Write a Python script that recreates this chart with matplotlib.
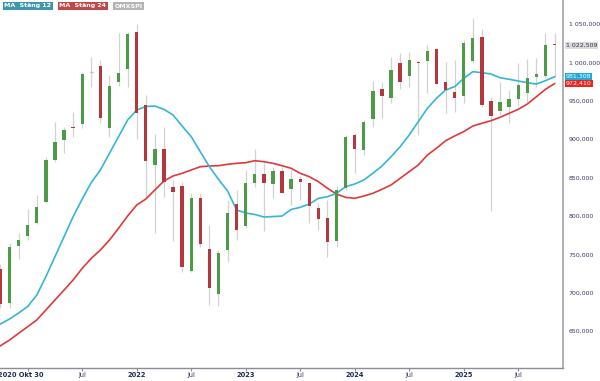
import numpy as np
import pandas as pd
import matplotlib.pyplot as plt
import matplotlib.transforms as mtransforms

# monthly OMXSPI candles, Oct 2020 .. Nov 2025
months = pd.period_range('2020-10', '2025-11', freq='M')

open_ = [731.0, 686.3, 760.9, 774.0, 790.5, 818.6, 872.9, 899.0, 916.3, 919.8,
         988.0, 995.3, 915.0, 974.5, 991.0, 1039.6, 944.5, 866.4, 886.9, 838.2,
         839.1, 728.8, 823.1, 756.7, 698.5, 755.7, 815.6, 787.0, 842.6, 854.3,
         841.3, 858.6, 834.8, 848.6, 842.6, 810.0, 797.8, 767.9, 836.1, 905.5,
         886.0, 925.9, 965.0, 953.3, 999.6, 982.3, 1001.0, 1001.8, 1017.1, 974.9,
         961.9, 956.3, 1002.2, 1033.5, 950.1, 937.1, 942.3, 952.0, 960.6, 981.4,
         982.3, 1024.5]
high = [738.0, 764.5, 777.5, 808.7, 827.4, 877.2, 922.8, 916.3, 935.8, 987.9,
        1007.4, 1003.1, 983.6, 1037.9, 1040.0, 1050.0, 957.6, 906.8, 915.5, 846.9,
        844.7, 829.6, 829.6, 788.3, 755.7, 820.8, 833.9, 859.9, 886.9, 868.6,
        864.2, 864.2, 859.9, 852.1, 844.7, 816.6, 820.8, 839.1, 905.5, 907.7,
        925.0, 975.8, 974.9, 1006.6, 1011.8, 1013.9, 1003.1, 1022.7, 1018.4, 1000.9,
        1003.1, 1029.2, 1057.4, 1043.1, 955.3, 974.9, 964.1, 998.8, 1004.0, 1005.3,
        1037.9, 1037.9]
low = [680.0, 679.8, 743.6, 768.8, 789.6, 817.3, 870.7, 881.7, 903.3, 914.2,
       968.4, 921.5, 903.3, 969.3, 968.4, 899.9, 825.0, 778.3, 825.0, 767.9,
       727.5, 727.5, 760.0, 684.1, 682.8, 740.5, 768.8, 785.0, 838.2, 780.9,
       823.1, 829.6, 814.3, 820.8, 790.5, 781.6, 747.0, 760.0, 833.9, 855.6,
       879.4, 915.5, 927.2, 946.8, 965.0, 967.6, 905.5, 959.8, 970.6, 934.5,
       935.8, 946.8, 998.8, 942.3, 806.9, 931.5, 921.5, 943.2, 948.8, 968.4,
       979.3, 981.0]
close = [686.0, 760.0, 768.8, 788.3, 811.3, 872.9, 896.8, 912.0, 915.0, 984.9,
         988.0, 927.2, 969.3, 986.6, 1037.0, 934.5, 872.0, 887.3, 844.7, 831.7,
         734.0, 823.1, 763.6, 706.7, 751.4, 804.3, 781.8, 843.4, 854.3, 842.6,
         858.6, 830.4, 847.8, 844.7, 813.0, 795.7, 766.6, 833.9, 903.3, 887.3,
         922.0, 962.8, 956.3, 990.1, 974.9, 1003.1, 999.0, 1015.2, 971.9, 964.1,
         953.3, 1025.7, 1031.4, 944.5, 930.2, 948.0, 952.4, 970.6, 980.1, 984.5,
         1022.7, 1022.509]

ma12 = [659.4, 665.9, 673.7, 682.2, 697.1, 721.0, 747.0, 773.0, 799.1, 822.1,
        843.6, 859.9, 881.6, 903.3, 925.0, 938.0, 942.6, 943.2, 938.9, 931.5,
        917.2, 903.3, 883.7, 864.2, 847.8, 832.6, 807.8, 803.9, 802.0, 798.7,
        799.3, 800.0, 808.5, 811.3, 815.6, 823.0, 825.1, 829.6, 838.2, 841.7,
        846.9, 855.6, 865.1, 877.2, 890.2, 905.5, 922.8, 940.2, 953.3, 964.1,
        968.4, 979.3, 987.9, 986.6, 984.9, 980.1, 978.0, 975.8, 973.6, 971.9,
        976.2, 981.308]
ma24 = [631.1, 638.5, 647.3, 655.9, 664.6, 677.6, 690.6, 703.6, 716.7, 731.9,
        744.9, 755.7, 768.7, 784.0, 800.0, 814.3, 822.1, 833.9, 845.6, 852.1,
        855.6, 859.9, 864.2, 865.1, 865.5, 867.3, 868.6, 869.4, 872.0, 870.7,
        868.6, 865.5, 862.1, 855.6, 851.2, 844.7, 836.1, 828.6, 824.3, 823.0,
        826.0, 829.6, 834.8, 840.4, 849.1, 857.7, 866.4, 879.4, 888.2, 898.0,
        904.2, 909.8, 917.2, 920.7, 924.1, 928.5, 933.7, 938.9, 945.8, 955.3,
        965.0, 972.410]

yticks = [650, 700, 750, 800, 850, 900, 950, 1000, 1050]
xtick_idx = [3, 9, 15, 21, 27, 33, 39, 45, 51, 57]
xtick_lbl = ['2020 Okt 30', 'Jul', '2022', 'Jul', '2023', 'Jul', '2024', 'Jul', '2025', 'Jul']

GREEN = '#4d9a48'
RED = '#b3373d'
WICK = '#d2d2d2'
CYAN = '#35b6d6'
MARED = '#e0393a'
TXT = '#3a3a68'


def fmt(v):
    return f"{v:,.3f}".replace(",", " ").replace(".", ",")


fig = plt.figure(figsize=(6, 3.81), dpi=100)
ax = fig.add_axes([0, 13 / 381, 563 / 600, 368 / 381])

x = np.arange(len(months))
o = np.array(open_)
c = np.array(close)

ax.vlines(x, low, high, color=WICK, lw=0.9, zorder=1)
ax.plot(x, ma24, color=MARED, lw=1.2, zorder=2)
ax.plot(x, ma12, color=CYAN, lw=1.2, zorder=2)

up = c > o
dn = c < o
eq = c == o
ax.bar(x[up], (c - o)[up], bottom=o[up], width=0.36, color=GREEN, zorder=3)
ax.bar(x[dn], (c - o)[dn], bottom=o[dn], width=0.36, color=RED, zorder=3)
ax.hlines(o[eq], x[eq] - 0.18, x[eq] + 0.18, color='#bbbbbb', lw=1, zorder=3)

ax.set_xlim(-0.05, 61.93)
ax.set_ylim(602.1, 1081.25)

for s in ['top', 'left']:
    ax.spines[s].set_visible(False)
ax.spines['right'].set_color('#a8a8b4')
ax.spines['right'].set_linewidth(1.3)
ax.spines['bottom'].set_color('#8c8c9c')
ax.spines['bottom'].set_linewidth(1.0)

ax.yaxis.tick_right()
ax.set_yticks(yticks)
ax.set_yticklabels([fmt(v) for v in yticks])
ax.tick_params(axis='y', length=0, pad=4, labelsize=4.5, labelcolor=TXT)

ax.set_xticks(xtick_idx)
ax.set_xticklabels(xtick_lbl)
ax.tick_params(axis='x', length=2.5, width=0.8, color='#8c8c9c', pad=0.5,
               labelsize=4.8, labelcolor=TXT)
for lbl in ax.get_xticklabels():
    if lbl.get_text() != 'Jul':
        lbl.set_fontweight('bold')
        lbl.set_color('#1f2a55')
first = ax.get_xticklabels()[0]
first.set_transform(first.get_transform() +
                    mtransforms.ScaledTranslation(-6.5 / 100, 0, fig.dpi_scale_trans))

# last value tags on the right axis
trans = mtransforms.blended_transform_factory(ax.transAxes, ax.transData)
tags = [(close[-1], '#dcdcdc', '#333344'),
        (ma12[-1], '#1fa8d8', 'white'),
        (ma24[-1], '#e8261f', 'white')]
for val, bg, fg in tags:
    ax.text(1.005, val, fmt(val), transform=trans, fontsize=4.5, color=fg,
            va='center', ha='left', clip_on=False,
            bbox=dict(boxstyle='square,pad=0.15', fc=bg, ec='none'))

# legend boxes
legend = [('MA  Stäng 12', '#3f97ab', 2), ('MA  Stäng 24', '#c2474a', 57),
          ('OMXSPI', '#b4b4b4', 112)]
for txt, bg, px in legend:
    fig.text(px / 600 + 0.004, 1 - 6 / 381, txt, fontsize=4.5, fontweight='bold',
             color='white', va='center', ha='left',
             bbox=dict(boxstyle='square,pad=0.3', fc=bg, ec='none'))

fig.savefig('out.png', dpi=100)
